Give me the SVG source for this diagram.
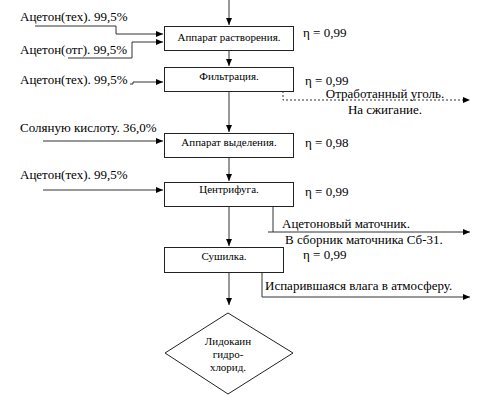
<svg xmlns="http://www.w3.org/2000/svg" width="481" height="419" viewBox="0 0 481 419">
<defs>
<marker id="ah" markerWidth="8" markerHeight="6" refX="7" refY="3" orient="auto" markerUnits="userSpaceOnUse">
<path d="M0,0 L7,3 L0,6 Z" fill="#000"/>
</marker>
<style>
.box{fill:#fff;stroke:#222;stroke-width:1}
.ln{fill:none;stroke:#333;stroke-width:1}
.dash{fill:none;stroke:#333;stroke-width:1;stroke-dasharray:2,2}
.bt{font-size:11px;fill:#000;text-anchor:middle}
.lt{font-size:13px;fill:#000}
.dt{font-size:11px;fill:#000;text-anchor:middle}
</style>
</defs>
<rect width="481" height="419" fill="#fff"/>
<g id="connectors">
<line class="ln" x1="229" y1="0" x2="229" y2="25" marker-end="url(#ah)"/>
<line class="ln" x1="229" y1="50" x2="229" y2="66" marker-end="url(#ah)"/>
<line class="ln" x1="229" y1="91" x2="229" y2="132" marker-end="url(#ah)"/>
<line class="ln" x1="229" y1="157" x2="229" y2="181" marker-end="url(#ah)"/>
<line class="ln" x1="229" y1="206" x2="229" y2="246" marker-end="url(#ah)"/>
<line class="ln" x1="229" y1="272" x2="229" y2="305" marker-end="url(#ah)"/>
<polyline class="ln" points="35,26 116,26 116,34 163,34" marker-end="url(#ah)"/>
<polyline class="ln" points="68,58 132,58 132,42 163,42" marker-end="url(#ah)"/>
<polyline class="ln" points="130,84 133,84 133,82 163,82" marker-end="url(#ah)"/>
<line class="ln" x1="43" y1="141" x2="163" y2="141" marker-end="url(#ah)"/>
<line class="ln" x1="43" y1="190" x2="163" y2="190" marker-end="url(#ah)"/>
<polyline class="dash" points="283,91 283,100 470,100" marker-end="url(#ah)"/>
<line class="ln" x1="273" y1="206" x2="273" y2="232" stroke="#999"/>
<line class="ln" x1="268" y1="232" x2="470" y2="232" marker-end="url(#ah)"/>
<polyline class="ln" points="262,272 262,297 470,297" marker-end="url(#ah)"/>
</g>
<g font-family="Liberation Serif">
<g id="n1"><rect class="box" x="164.5" y="26.5" width="129" height="24"/><text class="bt" x="229" y="41">Аппарат растворения.</text></g>
<g id="n2"><rect class="box" x="164.5" y="67.5" width="129" height="24" stroke="#777"/><text class="bt" x="229" y="80">Фильтрация.</text></g>
<g id="n3"><rect class="box" x="164.5" y="133.5" width="129" height="24"/><text class="bt" x="229" y="146">Аппарат выделения.</text></g>
<g id="n4"><rect class="box" x="164.5" y="182.5" width="129" height="24"/><text class="bt" x="229" y="193">Центрифуга.</text></g>
<g id="n5"><rect class="box" x="164.5" y="247.5" width="119" height="25"/><text class="bt" x="224" y="260">Сушилка.</text></g>
<g id="n6"><polygon class="box" points="228,313 293,353 228,394 165,353"/><text class="dt" x="228" y="345">Лидокаин</text><text class="dt" x="228" y="358">гидро-</text><text class="dt" x="228" y="371">хлорид.</text></g>
<g id="labels">
<text class="lt" x="20" y="21">Ацетон(тех). 99,5%</text>
<text class="lt" x="20" y="54">Ацетон(отг). 99,5%</text>
<text class="lt" x="20" y="84">Ацетон(тех). 99,5%</text>
<text class="lt" x="20" y="132">Соляную кислоту. 36,0%</text>
<text class="lt" x="20" y="179">Ацетон(тех). 99,5%</text>
<text class="lt" x="303" y="37">η = 0,99</text>
<text class="lt" x="305" y="85">η = 0,99</text>
<text class="lt" x="305" y="147">η = 0,98</text>
<text class="lt" x="305" y="196">η = 0,99</text>
<text class="lt" x="303" y="259">η = 0,99</text>
<text class="lt" x="385" y="98" text-anchor="middle">Отработанный уголь.</text>
<text class="lt" x="385" y="114" text-anchor="middle">На сжигание.</text>
<text class="lt" x="282" y="228">Ацетоновый маточник.</text>
<text class="lt" x="285" y="244">В сборник маточника Сб-31.</text>
<text class="lt" x="265" y="290">Испарившаяся влага в атмосферу.</text>
</g>
</g>
</svg>
